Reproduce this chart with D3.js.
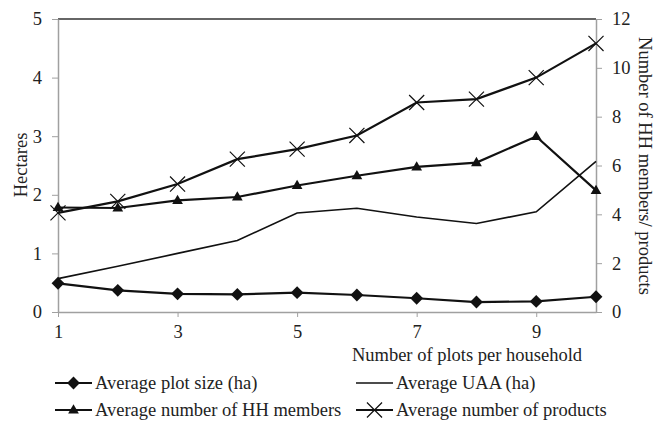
<!DOCTYPE html>
<html>
<head>
<meta charset="utf-8">
<script src="https://cdn.jsdelivr.net/npm/d3@7"></script>
<style>
  body { margin: 0; background: #fff; }
  svg text { font-family: 'Liberation Serif', 'Tinos', 'Times New Roman', 'DejaVu Serif', serif; fill: #222; }
</style>
</head>
<body>
<div id="chart"></div>
<script>
var plots = [1, 2, 3, 4, 5, 6, 7, 8, 9, 10];
var plotSize = [0.49, 0.37, 0.31, 0.30, 0.33, 0.29, 0.235, 0.17, 0.18, 0.26];
var uaa = [0.57, 0.78, 1.0, 1.22, 1.69, 1.77, 1.62, 1.51, 1.71, 2.57];
var hhMembers = [4.28, 4.26, 4.57, 4.71, 5.18, 5.58, 5.94, 6.12, 7.19, 4.98];
var products = [4.06, 4.53, 5.24, 6.26, 6.67, 7.23, 8.58, 8.72, 9.6, 11.0];
var xTicks = [1, 3, 5, 7, 9];
var leftTicks = [0, 1, 2, 3, 4, 5];
var rightTicks = [0, 2, 4, 6, 8, 10, 12];

var fontStack = "'Liberation Serif', 'Tinos', 'Times New Roman', 'DejaVu Serif', serif";
var fontSize = "18.5px";

var svgWidth = 654;
var svgHeight = 427;
var margin = { top: 19, right: 58, bottom: 115, left: 58 };
var chartWidth = svgWidth - margin.left - margin.right;
var chartHeight = svgHeight - margin.top - margin.bottom;

var svg = d3.select("#chart")
  .append("svg")
  .attr("width", svgWidth)
  .attr("height", svgHeight);

var chartGroup = svg.append("g")
  .attr("transform", `translate(${margin.left}, ${margin.top})`);

var xScale = d3.scaleLinear().domain([1, 10]).range([0, chartWidth]);
var yLeft = d3.scaleLinear().domain([0, 5]).range([chartHeight, 0]);
var yRight = d3.scaleLinear().domain([0, 12]).range([chartHeight, 0]);

// top border
chartGroup.append("line")
  .attr("x1", 0).attr("x2", chartWidth)
  .attr("y1", 0).attr("y2", 0)
  .attr("stroke", "#333").attr("stroke-width", 1.5);

function styleAxis(g) {
  g.attr("font-family", fontStack);
  g.selectAll("path").attr("stroke", "#a0a0a0").attr("stroke-width", 1.5);
  g.selectAll("line").attr("stroke", "#a0a0a0").attr("stroke-width", 1);
  g.selectAll("text")
    .style("font-family", fontStack)
    .style("font-size", fontSize)
    .attr("fill", "#222");
}

chartGroup.append("g")
  .attr("transform", `translate(0, ${chartHeight})`)
  .call(d3.axisBottom(xScale).tickValues(xTicks).tickFormat(d3.format("d"))
    .tickSizeInner(5).tickSizeOuter(0).tickPadding(8))
  .call(styleAxis);

chartGroup.append("g")
  .call(d3.axisLeft(yLeft).tickValues(leftTicks).tickFormat(d3.format("d"))
    .tickSizeInner(6).tickSizeOuter(0).tickPadding(10))
  .call(styleAxis);

chartGroup.append("g")
  .attr("transform", `translate(${chartWidth}, 0)`)
  .call(d3.axisRight(yRight).tickValues(rightTicks).tickFormat(d3.format("d"))
    .tickSizeInner(6).tickSizeOuter(0).tickPadding(10))
  .call(styleAxis);

chartGroup.append("text")
  .attr("x", 409)
  .attr("y", chartHeight + 49)
  .style("text-anchor", "middle")
  .style("font-size", fontSize)
  .text("Number of plots per household");

chartGroup.append("text")
  .attr("transform", "rotate(-90)")
  .attr("x", -146)
  .attr("y", -31)
  .style("text-anchor", "middle")
  .style("font-size", fontSize)
  .text("Hectares");

chartGroup.append("text")
  .attr("transform", "rotate(90)")
  .attr("x", 147)
  .attr("y", -(chartWidth + 43))
  .style("text-anchor", "middle")
  .style("font-size", fontSize)
  .text("Number of HH members/ products");

var series = [
  { name: "Average plot size (ha)", values: plotSize, y: yLeft, marker: "diamond", width: 2.2 },
  { name: "Average UAA (ha)", values: uaa, y: yLeft, marker: "none", width: 1.6 },
  { name: "Average number of HH members", values: hhMembers, y: yRight, marker: "triangle", width: 2.2 },
  { name: "Average number of products", values: products, y: yRight, marker: "cross", width: 2.2 }
];

function drawMarker(g, type, x, y) {
  if (type === "diamond") {
    g.append("path")
      .attr("d", d3.symbol().type(d3.symbolDiamond2).size(105)())
      .attr("transform", `translate(${x}, ${y})`)
      .attr("fill", "#111");
  } else if (type === "triangle") {
    g.append("path")
      .attr("d", d3.symbol().type(d3.symbolTriangle).size(50)())
      .attr("transform", `translate(${x}, ${y + 0.5})`)
      .attr("fill", "#111");
  } else if (type === "cross") {
    g.append("path")
      .attr("d", d3.symbol().type(d3.symbolX).size(150)())
      .attr("transform", `translate(${x}, ${y})`)
      .attr("fill", "none")
      .attr("stroke", "#111")
      .attr("stroke-width", 1.2);
  }
}

series.forEach(function(s) {
  var line = d3.line()
    .x(function(d, i) { return xScale(plots[i]); })
    .y(function(d) { return s.y(d); });
  chartGroup.append("path")
    .datum(s.values)
    .attr("d", line)
    .attr("fill", "none")
    .attr("stroke", "#111")
    .attr("stroke-width", s.width);
  var mg = chartGroup.append("g");
  s.values.forEach(function(v, i) {
    drawMarker(mg, s.marker, xScale(plots[i]), s.y(v));
  });
});

// legend
var legendPos = [[55, 383], [356, 383], [55, 410], [356, 410]];
series.forEach(function(s, i) {
  var lg = svg.append("g")
    .attr("transform", `translate(${legendPos[i][0]}, ${legendPos[i][1]})`);
  lg.append("line")
    .attr("x1", 0).attr("x2", 37)
    .attr("y1", 0).attr("y2", 0)
    .attr("stroke", "#111")
    .attr("stroke-width", s.width);
  drawMarker(lg, s.marker, 18.5, 0);
  lg.append("text")
    .attr("x", 40)
    .attr("y", 6)
    .style("font-size", fontSize)
    .text(s.name);
});
</script>
</body>
</html>
